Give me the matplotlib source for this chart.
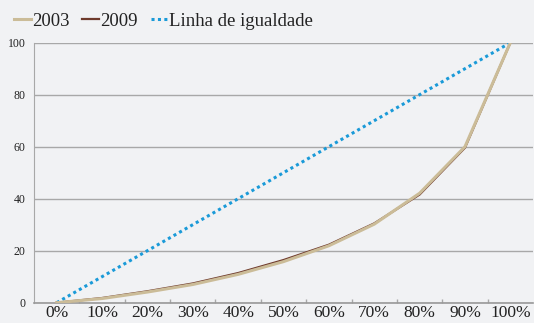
import matplotlib
matplotlib.use("Agg")
import matplotlib.pyplot as plt
from matplotlib.ticker import FixedLocator

# Lorenz curve data: cumulative share of population vs share of income
categories = ["0%", "10%", "20%", "30%", "40%", "50%", "60%", "70%", "80%", "90%", "100%"]
share_2003 = [0, 1.6, 4.1, 7.0, 10.9, 15.8, 21.9, 30.2, 42.1, 60.0, 100]
share_2009 = [0, 1.8, 4.4, 7.4, 11.4, 16.4, 22.3, 30.5, 41.6, 59.6, 100]
equality = [0, 10, 20, 30, 40, 50, 60, 70, 80, 90, 100]
y_ticks = [0, 20, 40, 60, 80, 100]

BG = "#f1f2f4"
TAN = "#cbbc98"
BROWN = "#6e3a2c"
BLUE = "#1a9ad8"
GRID = "#a8a8a8"

plt.rcParams["font.family"] = ["Liberation Serif", "DejaVu Serif"]

fig = plt.figure(figsize=(5.34, 3.23), dpi=100, facecolor=BG)
ax = fig.add_axes([34 / 534, 20.3 / 323, 499 / 534, 260 / 323], facecolor=BG)

x = list(range(len(categories)))
ax.plot(x, equality, color=BLUE, lw=2.2, ls=(0, (1, 1.1)), zorder=3, label="Linha de igualdade")
ax.plot(x, share_2009, color=BROWN, lw=1.6, zorder=4, label="2009")
ax.plot(x, share_2003, color=TAN, lw=2.2, zorder=5, label="2003")

ax.set_xlim(-0.5, len(categories) - 0.5)
ax.set_ylim(0, 100)
ax.set_xticks(x)
ax.set_xticklabels(categories, fontsize=12.5, color="#222222")
ax.xaxis.set_minor_locator(FixedLocator([i + 0.5 for i in range(len(categories) - 1)]))
ax.tick_params(axis="x", which="major", length=0, pad=2)
ax.tick_params(axis="x", which="minor", length=3, direction="in", color=GRID, width=1)
ax.set_yticks(y_ticks)
ax.set_yticklabels([str(v) for v in y_ticks], fontsize=8.5, color="#222222")
ax.tick_params(axis="y", length=0, pad=6)

ax.grid(axis="y", color=GRID, lw=1)
ax.set_axisbelow(True)
for side in ["top", "right"]:
    ax.spines[side].set_visible(False)
ax.spines["left"].set_color(GRID)
ax.spines["bottom"].set_color("#999999")
ax.spines["bottom"].set_linewidth(1.2)

handles, labels = ax.get_legend_handles_labels()
order = [2, 1, 0]
leg = fig.legend([handles[i] for i in order], [labels[i] for i in order],
                 loc="center left", bbox_to_anchor=(14 / 534, 302 / 323), ncol=3,
                 frameon=False, fontsize=13.5, handlelength=0.9, handletextpad=0.05,
                 columnspacing=0.7, borderaxespad=0, borderpad=0)
for t in leg.get_texts():
    t.set_color("#222222")

fig.savefig("out.png", dpi=100, facecolor=BG)
